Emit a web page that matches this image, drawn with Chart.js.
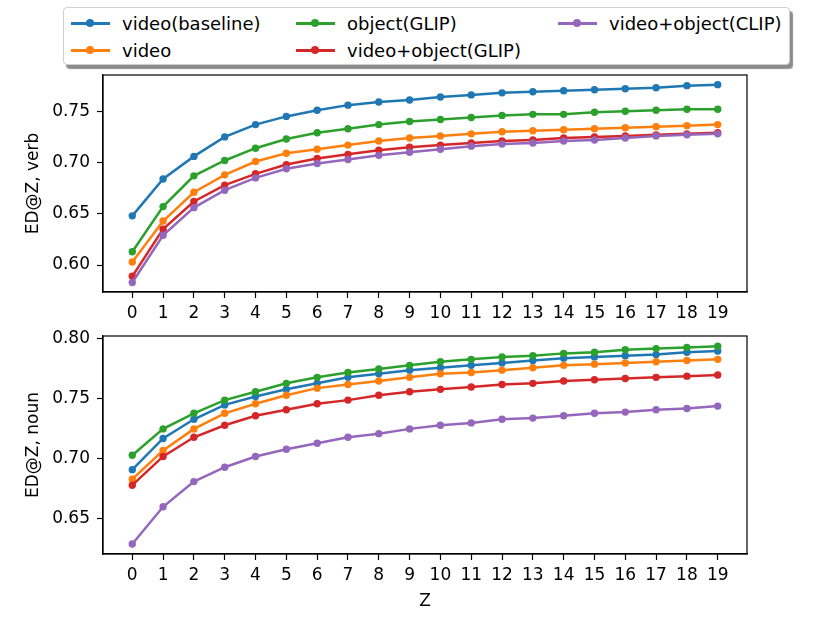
<!DOCTYPE html>
<html>
<head>
<meta charset="utf-8">
<title>ED@Z</title>
<script src="https://cdn.jsdelivr.net/npm/chart.js@4.4.0/dist/chart.umd.min.js"></script>
<style>
  body { margin: 0; background: #fff; font-family: "DejaVu Sans", sans-serif; }
  #wrap { position: relative; width: 830px; height: 623px; overflow: hidden; }
  #wrap canvas { position: absolute; left: 0; }
  #verb-chart { top: 0; }
  #noun-chart { top: 300px; }
  #legend {
    position: absolute; left: 63px; top: 7px; width: 727px; height: 58px;
    box-sizing: border-box; background: #fff; border: 1px solid #cfcfcf;
    border-radius: 4px; box-shadow: 3px 4px 1px rgba(0,0,0,0.45);
  }
  .item { position: absolute; height: 20px; display: flex; align-items: center; white-space: nowrap; }
  .handle { position: relative; width: 39px; height: 3px; }
  .handle i { position: absolute; left: 15px; top: -2.5px; width: 8px; height: 8px; border-radius: 50%; }
  .item span { margin-left: 12px; font-size: 18px; color: #000; }
</style>
</head>
<body>
<div id="wrap">
  <div id="legend"></div>
  <canvas id="verb-chart" width="830" height="330"></canvas>
  <canvas id="noun-chart" width="830" height="323"></canvas>
</div>
<script>
// x values (Z)
const zValues = [0, 1, 2, 3, 4, 5, 6, 7, 8, 9, 10, 11, 12, 13, 14, 15, 16, 17, 18, 19];

const seriesNames = ['video(baseline)', 'video', 'object(GLIP)', 'video+object(GLIP)', 'video+object(CLIP)'];
const seriesColors = ['#1f77b4', '#ff7f0e', '#2ca02c', '#d62728', '#9467bd'];

// ED@Z, verb
const verbBaseline = [0.648, 0.684, 0.706, 0.725, 0.737, 0.745, 0.751, 0.756, 0.759, 0.761, 0.764, 0.766, 0.768, 0.769, 0.770, 0.771, 0.772, 0.773, 0.775, 0.776];
const verbVideo = [0.603, 0.643, 0.671, 0.688, 0.701, 0.709, 0.713, 0.717, 0.721, 0.724, 0.726, 0.728, 0.730, 0.731, 0.732, 0.733, 0.734, 0.735, 0.736, 0.737];
const verbObjectGlip = [0.613, 0.657, 0.687, 0.702, 0.714, 0.723, 0.729, 0.733, 0.737, 0.740, 0.742, 0.744, 0.746, 0.747, 0.747, 0.749, 0.750, 0.751, 0.752, 0.752];
const verbVideoObjGlip = [0.589, 0.635, 0.662, 0.678, 0.689, 0.698, 0.704, 0.708, 0.712, 0.715, 0.717, 0.719, 0.721, 0.722, 0.724, 0.725, 0.726, 0.727, 0.728, 0.729];
const verbVideoObjClip = [0.583, 0.629, 0.656, 0.673, 0.685, 0.694, 0.699, 0.703, 0.707, 0.710, 0.713, 0.716, 0.718, 0.719, 0.721, 0.722, 0.724, 0.726, 0.727, 0.728];

// ED@Z, noun
const nounBaseline = [0.691, 0.717, 0.733, 0.745, 0.752, 0.758, 0.763, 0.768, 0.771, 0.774, 0.776, 0.778, 0.780, 0.782, 0.784, 0.785, 0.786, 0.787, 0.789, 0.790];
const nounVideo = [0.683, 0.707, 0.725, 0.738, 0.746, 0.753, 0.759, 0.762, 0.765, 0.768, 0.771, 0.772, 0.774, 0.776, 0.778, 0.779, 0.780, 0.781, 0.782, 0.783];
const nounObjectGlip = [0.703, 0.725, 0.738, 0.749, 0.756, 0.763, 0.768, 0.772, 0.775, 0.778, 0.781, 0.783, 0.785, 0.786, 0.788, 0.789, 0.791, 0.792, 0.793, 0.794];
const nounVideoObjGlip = [0.678, 0.702, 0.718, 0.728, 0.736, 0.741, 0.746, 0.749, 0.753, 0.756, 0.758, 0.760, 0.762, 0.763, 0.765, 0.766, 0.767, 0.768, 0.769, 0.770];
const nounVideoObjClip = [0.629, 0.660, 0.681, 0.693, 0.702, 0.708, 0.713, 0.718, 0.721, 0.725, 0.728, 0.730, 0.733, 0.734, 0.736, 0.738, 0.739, 0.741, 0.742, 0.744];

const verbTicks = [0.60, 0.65, 0.70, 0.75];
const nounTicks = [0.65, 0.70, 0.75, 0.80];

const FONT = { family: '"DejaVu Sans", sans-serif', size: 17 };

// matplotlib-style closed box around the axes
const framePlugin = {
  id: 'frame',
  afterDraw(chart) {
    const { ctx, chartArea: a } = chart;
    ctx.save();
    ctx.strokeStyle = '#000';
    ctx.lineWidth = 1.2;
    ctx.strokeRect(a.left, a.top, a.right - a.left, a.bottom - a.top);
    ctx.restore();
  }
};

function buildDatasets(seriesList) {
  return seriesList.map((vals, i) => ({
    label: seriesNames[i],
    data: zValues.map((z, k) => ({ x: z, y: vals[k] })),
    borderColor: seriesColors[i],
    backgroundColor: seriesColors[i],
    pointBackgroundColor: seriesColors[i],
    pointBorderWidth: 0,
    pointRadius: 3.7,
    borderWidth: 2.5,
    tension: 0,
    order: seriesNames.length - i // later series drawn on top
  }));
}

function makeChart(id, seriesList, yMin, yMax, yTicks, yTitle, showZ, padTop, xHeight) {
  const tickGrid = { display: true, drawOnChartArea: false, drawTicks: true, tickLength: 6, tickColor: '#000', tickWidth: 1.2 };
  const border = { display: true, color: '#000', width: 1.2 };
  return new Chart(document.getElementById(id), {
    type: 'line',
    data: { datasets: buildDatasets(seriesList) },
    options: {
      responsive: false,
      animation: false,
      devicePixelRatio: 1,
      layout: { padding: { top: padTop, right: 83, left: 0, bottom: 0 } },
      plugins: { legend: { display: false }, tooltip: { enabled: false } },
      scales: {
        x: {
          type: 'linear',
          min: -0.95,
          max: 19.95,
          afterBuildTicks: s => { s.ticks = zValues.map(v => ({ value: v })); },
          afterFit: s => { s.height = xHeight; },
          grid: tickGrid,
          border,
          ticks: { color: '#000', font: FONT, padding: 5, autoSkip: false, maxRotation: 0, callback: v => String(v) },
          title: { display: showZ, text: 'Z', color: '#000', font: FONT, padding: { top: 0, bottom: 11 } }
        },
        y: {
          min: yMin,
          max: yMax,
          afterBuildTicks: s => { s.ticks = yTicks.map(v => ({ value: v })); },
          afterFit: s => { s.width = 103; },
          grid: tickGrid,
          border,
          ticks: { color: '#000', font: FONT, padding: 7, callback: v => v.toFixed(2) },
          title: { display: true, text: yTitle, color: '#000', font: FONT, padding: { top: 23, bottom: 0 } }
        }
      }
    },
    plugins: [framePlugin]
  });
}

function buildLegend() {
  const box = document.getElementById('legend');
  const colX = [7, 232, 494];
  const rowY = [5, 32];
  seriesNames.forEach((name, i) => {
    const item = document.createElement('div');
    item.className = 'item';
    item.style.left = colX[Math.floor(i / 2)] + 'px';
    item.style.top = rowY[i % 2] + 'px';
    item.innerHTML = `<div class="handle" style="background:${seriesColors[i]}"><i style="background:${seriesColors[i]}"></i></div><span>${name}</span>`;
    box.appendChild(item);
  });
}

buildLegend();
makeChart('verb-chart',
  [verbBaseline, verbVideo, verbObjectGlip, verbVideoObjGlip, verbVideoObjClip],
  0.5737, 0.7854, verbTicks, 'ED@Z, verb', false, 75, 38);
makeChart('noun-chart',
  [nounBaseline, nounVideo, nounObjectGlip, nounVideoObjGlip, nounVideoObjClip],
  0.6206, 0.8025, nounTicks, 'ED@Z, noun', true, 36, 69);
</script>
</body>
</html>
